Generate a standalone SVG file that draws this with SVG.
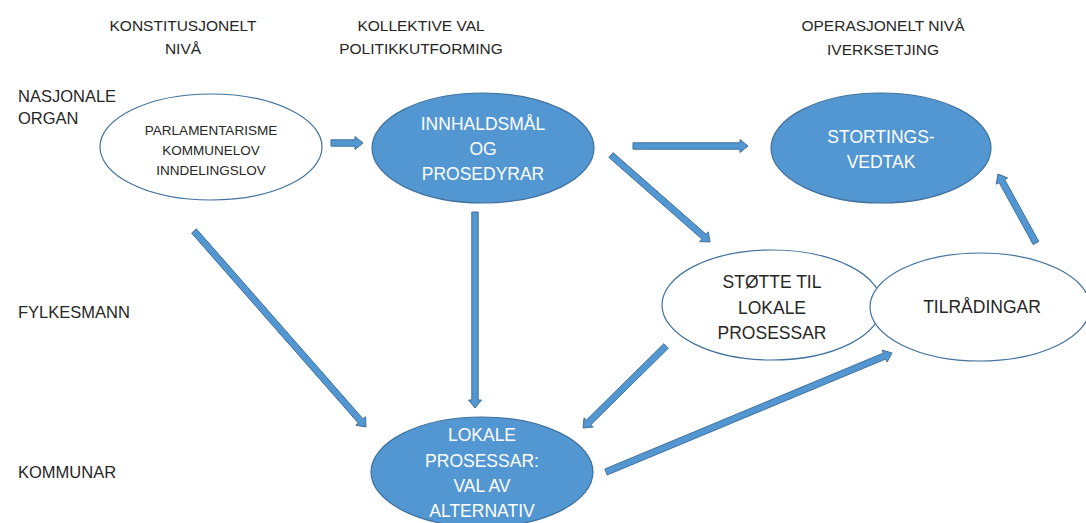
<svg xmlns="http://www.w3.org/2000/svg" width="1086" height="523" viewBox="0 0 1086 523">
  <style>
    text { font-family: "Liberation Sans", Arial, sans-serif; fill: #262626; }
    .hdr { font-size: 15.5px; text-anchor: middle; }
    .side { font-size: 16.5px; }
    .lbl { font-size: 17.5px; text-anchor: middle; }
    .small { font-size: 13.5px; text-anchor: middle; }
    .inv { fill: #ffffff; }
    .open { fill: #ffffff; stroke: #41719C; stroke-width: 1.2; }
    .solid { fill: #5397D2; stroke: #41719C; stroke-width: 1.2; }
    .arrow { fill: #5397D2; stroke: #41719C; stroke-width: 1; stroke-linejoin: miter; }
  </style>

  <!-- column headings -->
  <g id="headings">
    <text class="hdr" x="183" y="31">KONSTITUSJONELT</text>
    <text class="hdr" x="183" y="54">NIVÅ</text>
    <text class="hdr" x="421" y="31">KOLLEKTIVE VAL</text>
    <text class="hdr" x="421" y="54">POLITIKKUTFORMING</text>
    <text class="hdr" x="883" y="31">OPERASJONELT NIVÅ</text>
    <text class="hdr" x="883" y="55">IVERKSETJING</text>
  </g>

  <!-- row headings -->
  <g id="rows">
    <text class="side" x="18" y="102">NASJONALE</text>
    <text class="side" x="18" y="124">ORGAN</text>
    <text class="side" x="18" y="318">FYLKESMANN</text>
    <text class="side" x="18" y="478">KOMMUNAR</text>
  </g>

  <!-- connectors -->
  <g id="connectors">
    <polygon class="arrow" points="331,146.2 355,146.2 355,149.5 363,143 355,136.5 355,139.8 331,139.8"/>
    <polygon class="arrow" points="633,149.2 740,149.2 740,152.5 748,146 740,139.5 740,142.8 633,142.8"/>
    <polygon class="arrow" points="608.9,157.4 701.9,239.1 699.7,241.6 710,242 708.3,231.8 706.1,234.3 613.1,152.6"/>
    <polygon class="arrow" points="471.8,212 471.8,400 468.5,400 475,408 481.5,400 478.2,400 478.2,212"/>
    <polygon class="arrow" points="191.6,233.1 358.3,423.1 355.8,425.3 366,427 365.6,416.7 363.1,418.9 196.4,228.9"/>
    <polygon class="arrow" points="663.8,343.7 586.4,420.1 584.1,417.8 583,428 593.3,427 590.9,424.7 668.3,348.3"/>
    <polygon class="arrow" points="607.2,475 885.8,359 887.1,362.1 892,353 882.1,350.1 883.4,353.1 604.8,469"/>
    <polygon class="arrow" points="1038.8,241.5 1004.7,179.5 1007.6,177.9 998,174 996.2,184.2 999.1,182.6 1033.2,244.5"/>
  </g>

  <g id="n-constitution">
    <ellipse class="open" cx="211" cy="147" rx="111" ry="53"/>
    <text class="small" x="211" y="135">PARLAMENTARISME</text>
    <text class="small" x="211" y="155">KOMMUNELOV</text>
    <text class="small" x="211" y="175">INNDELINGSLOV</text>
  </g>

  <g id="n-goals">
    <ellipse class="solid" cx="483" cy="148" rx="111" ry="55"/>
    <text class="lbl inv" x="483" y="130">INNHALDSMÅL</text>
    <text class="lbl inv" x="483" y="155">OG</text>
    <text class="lbl inv" x="483" y="180">PROSEDYRAR</text>
  </g>

  <g id="n-storting">
    <ellipse class="solid" cx="881" cy="148" rx="110" ry="55"/>
    <text class="lbl inv" x="881" y="143">STORTINGS-</text>
    <text class="lbl inv" x="881" y="168">VEDTAK</text>
  </g>

  <g id="n-support">
    <ellipse class="open" cx="772" cy="305" rx="110" ry="55"/>
    <text class="lbl" x="772" y="288">STØTTE TIL</text>
    <text class="lbl" x="772" y="314">LOKALE</text>
    <text class="lbl" x="772" y="339">PROSESSAR</text>
  </g>

  <g id="n-advice">
    <ellipse class="open" cx="980" cy="307" rx="110" ry="54"/>
    <text class="lbl" x="982" y="313">TILRÅDINGAR</text>
  </g>

  <g id="n-local">
    <ellipse class="solid" cx="482" cy="472" rx="111" ry="55"/>
    <text class="lbl inv" x="482" y="441">LOKALE</text>
    <text class="lbl inv" x="482" y="467">PROSESSAR:</text>
    <text class="lbl inv" x="482" y="492">VAL AV</text>
    <text class="lbl inv" x="482" y="517">ALTERNATIV</text>
  </g>
</svg>
